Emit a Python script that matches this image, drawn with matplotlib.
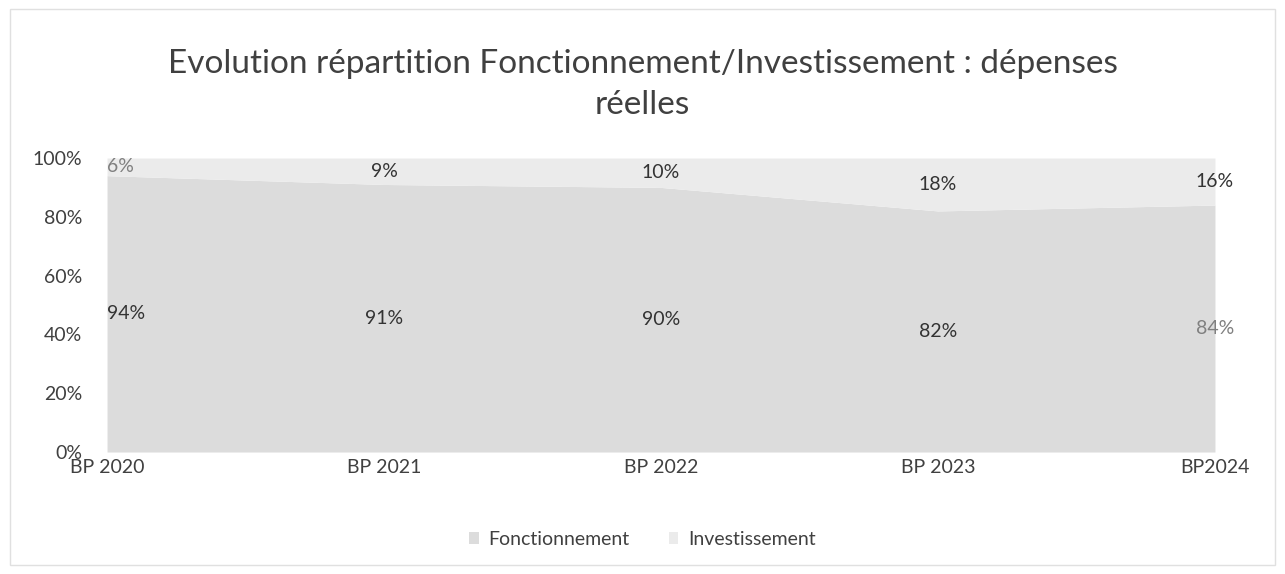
import numpy as np
from matplotlib import pyplot as plt
from matplotlib.patches import Rectangle

years = ["BP 2020", "BP 2021", "BP 2022", "BP 2023", "BP2024"]
fonct = [94, 91, 90, 82, 84]
invest = [6, 9, 10, 18, 16]

plt.rcParams['font.family'] = ['Lato', 'DejaVu Sans']

fig = plt.figure(figsize=(12.85, 5.74), dpi=100)
ax = fig.add_axes([0.0833, 0.2125, 0.8622, 0.5122])

x = np.arange(len(years))
f = np.array(fonct)
inv = np.array(invest)
ax.fill_between(x, 0, f, color="#dcdcdc", lw=0, label="Fonctionnement")
ax.fill_between(x, f, f + inv, color="#ebebeb", lw=0, label="Investissement")

# data labels in the middle of each band
grey_ones = {("f", 4), ("i", 0)}
for i in x:
    ha = "left" if i == 0 else "center"
    c = "#808080" if ("f", i) in grey_ones else "#333333"
    ax.text(i, f[i] / 2, f"{fonct[i]}%", ha=ha, va="center", fontsize=14, color=c)
    c = "#808080" if ("i", i) in grey_ones else "#333333"
    ax.text(i, f[i] + inv[i] / 2, f"{invest[i]}%", ha=ha, va="center", fontsize=14, color=c)

ax.set_xlim(0, len(years) - 1)
ax.set_ylim(0, 100)
ax.set_yticks(range(0, 101, 20))
ax.set_yticklabels([f"{v}%" for v in range(0, 101, 20)])
ax.set_xticks(x)
ax.set_xticklabels(years)
ax.tick_params(length=0, labelsize=14, labelcolor="#404040")
ax.tick_params(axis="y", pad=18)
ax.tick_params(axis="x", pad=5)
for s in ax.spines.values():
    s.set_visible(False)

fig.suptitle("Evolution répartition Fonctionnement/Investissement : dépenses\nréelles",
             y=0.915, fontsize=24, color="#404040", linespacing=1.45)

fig.legend(loc="lower center", bbox_to_anchor=(0.5, 0.015), ncol=2, frameon=False,
           fontsize=14, handlelength=0.5, handleheight=0.5, handletextpad=0.5,
           columnspacing=2.0, labelcolor="#404040")

fig.patches.append(Rectangle((0.008, 0.015), 0.984, 0.97, transform=fig.transFigure,
                             fill=False, edgecolor="#e0e0e0", lw=1))

fig.savefig("out.png", dpi=100)
